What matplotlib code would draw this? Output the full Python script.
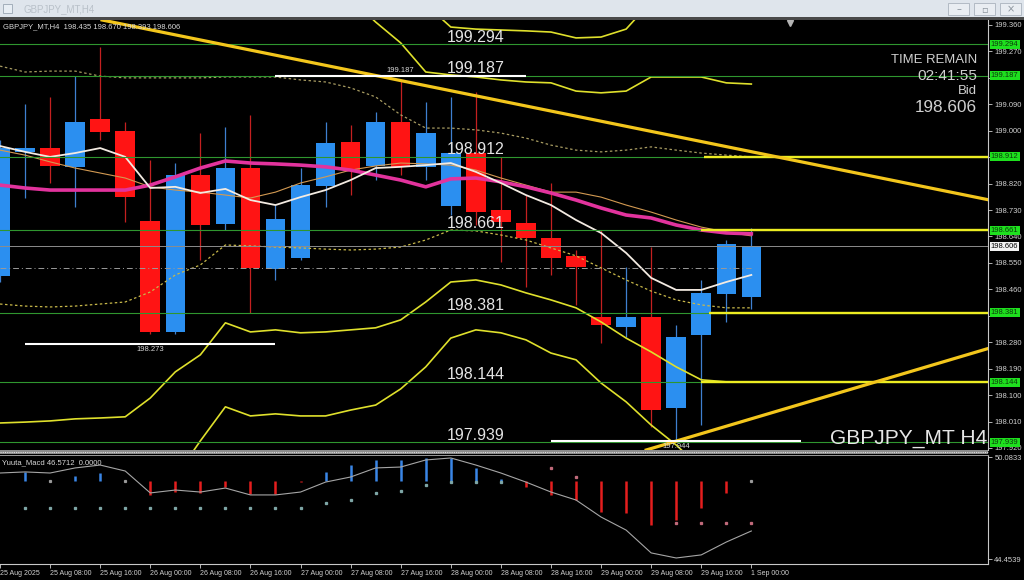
import numpy as np
import matplotlib
matplotlib.use('Agg')
import matplotlib.pyplot as plt
from matplotlib import font_manager
from matplotlib.patches import Rectangle

# ---- candles (GBPJPY H4, 25 Aug 00:00 .. 1 Sep 00:00) ----
opens = np.array([198.506, 198.928, 198.941, 198.877, 199.040, 198.999, 198.693, 198.315,
                  198.849, 198.683, 198.873, 198.529, 198.567, 198.812, 198.962, 198.880,
                  199.030, 198.877, 198.744, 198.924, 198.730, 198.686, 198.635, 198.574,
                  198.366, 198.332, 198.366, 198.056, 198.305, 198.444, 198.435])
highs = np.array([198.969, 199.091, 199.115, 199.186, 199.285, 199.030, 198.900, 198.890,
                  198.992, 199.013, 199.054, 198.747, 198.873, 199.030, 199.020, 199.064,
                  199.173, 199.098, 199.115, 199.132, 198.911, 198.781, 198.822, 198.594,
                  198.662, 198.536, 198.604, 198.339, 198.492, 198.628, 198.670])
lows = np.array([198.485, 198.771, 198.822, 198.740, 198.969, 198.689, 198.308, 198.308,
                 198.560, 198.662, 198.380, 198.492, 198.560, 198.740, 198.781, 198.832,
                 198.849, 198.832, 198.713, 198.679, 198.553, 198.468, 198.509, 198.407,
                 198.277, 198.298, 197.991, 197.944, 197.998, 198.349, 198.393])
closes = np.array([198.941, 198.941, 198.880, 199.030, 198.996, 198.774, 198.315, 198.849,
                   198.679, 198.873, 198.533, 198.700, 198.815, 198.958, 198.866, 199.030,
                   198.877, 198.992, 198.924, 198.723, 198.689, 198.635, 198.567, 198.536,
                   198.339, 198.366, 198.049, 198.298, 198.448, 198.614, 198.606])

# ---- moving averages / envelopes ----
ma_magenta = [198.815, 198.805, 198.798, 198.798, 198.798, 198.798, 198.815, 198.843,
              198.873, 198.897, 198.890, 198.887, 198.883, 198.877, 198.866, 198.849,
              198.832, 198.809, 198.836, 198.839, 198.826, 198.809, 198.788, 198.764,
              198.737, 198.713, 198.703, 198.679, 198.662, 198.652, 198.649]
ma_white = [198.948, 198.928, 198.911, 198.924, 198.941, 198.911, 198.805, 198.809,
            198.788, 198.802, 198.764, 198.747, 198.774, 198.798, 198.832, 198.873,
            198.877, 198.883, 198.890, 198.860, 198.822, 198.781, 198.747, 198.696,
            198.652, 198.584, 198.499, 198.458, 198.458, 198.485, 198.509]
ma_orange = [198.934, 198.917, 198.894, 198.873, 198.856, 198.839, 198.809, 198.798,
             198.791, 198.781, 198.771, 198.791, 198.822, 198.843, 198.866, 198.880,
             198.890, 198.887, 198.883, 198.866, 198.839, 198.815, 198.791, 198.791,
             198.774, 198.747, 198.723, 198.696, 198.672, 198.655, 198.642]
env_upper = [199.220, 199.200, 199.203, 199.203, 199.186, 199.180, 199.180, 199.180,
             199.180, 199.183, 199.183, 199.183, 199.173, 199.166, 199.146, 199.115,
             199.054, 199.009, 199.009, 199.003, 198.992, 198.975, 198.951, 198.934,
             198.928, 198.934, 198.945, 198.934, 198.924, 198.917, 198.911]
env_lower = [198.410, 198.403, 198.400, 198.403, 198.410, 198.417, 198.451, 198.509,
             198.543, 198.611, 198.608, 198.604, 198.601, 198.597, 198.594, 198.597,
             198.604, 198.628, 198.662, 198.659, 198.645, 198.628, 198.601, 198.574,
             198.533, 198.492, 198.454, 198.424, 198.407, 198.397, 198.397]
nan = np.nan
band1_upper = [nan] * 14 + [199.450, 199.370, 199.299, 199.200, 199.190, 199.183, 199.173,
                            199.166, 199.163, 199.135, 199.129, 199.135, 199.183, 199.183,
                            199.183, 199.163, 199.159]
band1_lower = [198.005, 198.008, 198.012, 198.019, 198.022, 198.026, 198.090, 198.179,
               198.237, 198.346, 198.315, 198.322, 198.312, 198.315, 198.322, 198.329,
               198.356, 198.417, 198.485, 198.492, 198.475, 198.448, 198.424, 198.397,
               198.349, 198.294, 198.247, 198.196, 198.152, 198.145, 198.145]
band2_upper = [nan] * 17 + [199.430, 199.353, 199.346, 199.343, 199.340, 199.336, 199.316,
                            199.319, 199.346, 199.440] + [nan] * 4
band2_lower = [nan] * 7 + [197.821, 197.944, 198.060, 198.029, 198.036, 198.029, 198.029,
                           198.049, 198.066, 198.121, 198.196, 198.294, 198.322, 198.312,
                           198.288, 198.243, 198.220, 198.141, 198.077, 197.998, 197.930,
                           197.850, nan, nan]

# ---- objects ----
green_levels = [199.294, 199.187, 198.912, 198.661, 198.381, 198.144, 197.939]
yellow_levels = [198.912, 198.661, 198.381, 198.144]
yellow_starts = [28.1, 28.0, 28.3, 28.0]
seg_levels = [199.187, 198.273, 197.944]
seg_starts = [11, 1, 22]
seg_ends = [21, 11, 32]
trend_down = [(5, 199.361), (39, 198.773)]
trend_up = [(26, 197.918), (39, 198.247)]
bid = 198.606
prev_line = 198.533

# ---- Yuuta_Macd sub window ----
macd_line = [49.20, 49.26, 49.20, 49.48, 49.64, 49.31, 48.10, 48.26, 48.15, 48.37, 47.99,
             47.99, 48.15, 48.70, 48.98, 49.48, 49.53, 49.92, 50.03, 49.64, 49.20, 48.70,
             48.15, 47.71, 46.77, 46.05, 44.79, 44.51, 44.68, 45.39, 46.00]
hist = [nan, 0.50, 0, 0.28, 0.44, 0, -0.77, -0.61, -0.66, -0.33, -0.72, -0.72, -0.06, 0.50,
        0.88, 1.16, 1.16, 1.27, 1.27, 0.72, 0.11, -0.33, -0.77, -1.05, -1.71, -1.77, -2.43,
        -2.15, -1.49, -0.66, 0]
hist_base = 48.76
dots_teal = [nan] + [47.27] * 12 + [47.54, 47.71, 48.10, 48.21, 48.54, 48.70, 48.70, 48.70] + [nan] * 10
dots_red = [nan] * 22 + [49.48, 48.98, nan, nan, nan, 46.44, 46.44, 46.44, 46.44]

tick_idx = [0, 2, 4, 6, 8, 10, 12, 14, 16, 18, 20, 22, 24, 26, 28, 30]
tick_labels = ['25 Aug 2025', '25 Aug 08:00', '25 Aug 16:00', '26 Aug 00:00', '26 Aug 08:00',
               '26 Aug 16:00', '27 Aug 00:00', '27 Aug 08:00', '27 Aug 16:00', '28 Aug 00:00',
               '28 Aug 08:00', '28 Aug 16:00', '29 Aug 00:00', '29 Aug 08:00', '29 Aug 16:00',
               '1 Sep 00:00']

plt.rcParams['font.family'] = ['Liberation Sans', 'DejaVu Sans']
have_narrow = any(f.name == 'Liberation Sans Narrow' for f in font_manager.fontManager.ttflist)
NF = ['Liberation Sans Narrow', 'DejaVu Sans'] if have_narrow else ['Liberation Sans', 'DejaVu Sans']
NS = 1.0 if have_narrow else 0.82

W, H = 1024, 580
TXT = '#d8d8d8'
fig = plt.figure(figsize=(W / 100, H / 100), dpi=100, facecolor='black')

# window title bar
fig.patches.append(Rectangle((0, 1 - 17 / H), 1, 17 / H, transform=fig.transFigure,
                             fc='#dfe5ec', ec='none'))
fig.patches.append(Rectangle((0, 1 - 20 / H), 1, 3 / H, transform=fig.transFigure,
                             fc='#4a4a4a', ec='none'))
fig.patches.append(Rectangle((3 / W, 1 - 13 / H), 9 / W, 9 / H, transform=fig.transFigure,
                             fc='#e8eef4', ec='#9aa6b2', lw=0.6))
fig.text(24 / W, 1 - 9 / H, 'GBPJPY_MT,H4', fontsize=7, color='#b9c1c9', va='center')
for bx, sym in [(948, '\u2013'), (974, '\u25ab'), (1000, '\u00d7')]:
    fig.patches.append(Rectangle((bx / W, 1 - 15 / H), 21 / W, 12 / H, transform=fig.transFigure,
                                 fc='#e9edf2', ec='#aab3bd', lw=0.6))
    fig.text((bx + 10.5) / W, 1 - 9 / H, sym, fontsize=7, color='#8a939c', ha='center',
             va='center', family=['DejaVu Sans'])

# main chart
ax = fig.add_axes([0, 1 - 450 / H, 988 / W, 430 / H], facecolor='black')
ax.set_xlim(0, 39.45)
ax.set_ylim(197.913, 199.377)
x = np.arange(len(opens))
up = closes >= opens
lo = np.minimum(opens, closes)
hb = np.abs(closes - opens)
ax.vlines(x[up], lows[up], highs[up], color='#3f80d0', lw=0.9, zorder=3)
ax.vlines(x[~up], lows[~up], highs[~up], color='#c42020', lw=0.9, zorder=3)
ax.bar(x[up], hb[up], bottom=lo[up], width=0.78, color='#2b8ff0', zorder=4)
ax.bar(x[~up], hb[~up], bottom=lo[~up], width=0.78, color='#ff1414', zorder=4)

ax.plot(x, band1_upper, color='#dfe02c', lw=1.2, zorder=5)
ax.plot(x, band1_lower, color='#dfe02c', lw=1.2, zorder=5)
ax.plot(x, band2_upper, color='#dfe02c', lw=1.2, zorder=5)
ax.plot(x, band2_lower, color='#dfe02c', lw=1.2, zorder=5)
ax.plot(x, env_upper, color='#a89c62', lw=0.9, ls=(0, (2, 2)), zorder=5)
ax.plot(x, env_lower, color='#c9b94a', lw=0.9, ls=(0, (2, 2)), zorder=5)
ax.plot(x, ma_orange, color='#d39a52', lw=0.8, zorder=5)
ax.plot(x, ma_magenta, color='#e2339d', lw=2.6, zorder=5)
ax.plot(x, ma_white, color='#f3ebe2', lw=1.3, zorder=6)

for lv in green_levels:
    ax.axhline(lv, color='#2f962f', lw=0.8, zorder=6)
ax.axhline(bid, color='#8c8c8c', lw=0.7, zorder=6)
ax.hlines(prev_line, 0, 30, color='#9a9a9a', lw=0.7, linestyles=(0, (6, 3, 1, 3)), zorder=6)
ax.hlines(yellow_levels, yellow_starts, 39.45, color='#ecec22', lw=1.7, zorder=7)
ax.axline(trend_down[0], trend_down[1], color='#f3c61c', lw=2.3, zorder=7)
ax.axline(trend_up[0], trend_up[1], color='#f3c61c', lw=2.3, zorder=7)
ax.hlines(seg_levels, seg_starts, seg_ends, color='white', lw=1.5, zorder=8)
ax.annotate('199.187', (16, seg_levels[0]), xytext=(0, 1.5), textcoords='offset points',
            ha='center', va='bottom', fontsize=5.5, color=TXT, zorder=9)
ax.annotate('198.273', (6, seg_levels[1]), xytext=(0, -1.5), textcoords='offset points',
            ha='center', va='top', fontsize=5.5, color=TXT, zorder=9)
ax.annotate('197.944', (27, seg_levels[2]), xytext=(0, -1.5), textcoords='offset points',
            ha='center', va='top', fontsize=5.5, color=TXT, zorder=9)

for lv in green_levels:
    ax.annotate(f'{lv:.3f}', (17.85, lv), xytext=(0, 2), textcoords='offset points',
                ha='left', va='baseline', fontsize=11.5, color='#e4e4e4', zorder=9)

ax.text(0.003, 1 - 7 / 430, 'GBPJPY_MT,H4  198.435 198.670 198.393 198.606',
        transform=ax.transAxes, fontsize=5.5, color=TXT, va='center', zorder=9)
ax.text(0.989, 1 - 40 / 430, 'TIME REMAIN', transform=ax.transAxes, ha='right', va='center',
        fontsize=11.5 * NS, color='#d0d0d0', family=NF, zorder=9)
ax.text(0.989, 1 - 56.5 / 430, '02:41:55', transform=ax.transAxes, ha='right', va='center',
        fontsize=13.5 * NS, color='#d0d0d0', family=NF, zorder=9)
ax.text(0.989, 1 - 71 / 430, 'Bid', transform=ax.transAxes, ha='right', va='center',
        fontsize=11.5 * NS, color='#d0d0d0', family=NF, zorder=9)
ax.text(0.989, 1 - 88 / 430, '198.606', transform=ax.transAxes, ha='right', va='center',
        fontsize=15 * NS, color='#d0d0d0', family=NF, zorder=9)
ax.text(0.999, 6 / 430, 'GBPJPY_MT H4', transform=ax.transAxes, ha='right', va='baseline',
        fontsize=18.5 * NS, color='#e6e6e6', family=NF, zorder=9)
ax.plot([0.7996], [0.993], marker='v', ms=4, color='#b4b4b4', transform=ax.transAxes,
        clip_on=False, zorder=9)

for side in ['top', 'left', 'bottom']:
    ax.spines[side].set_visible(False)
ax.spines['right'].set_color('#c8c8c8')
ax.spines['right'].set_linewidth(0.8)
ax.set_xticks([])
ax.yaxis.tick_right()
yt = np.round(199.36 - 0.09 * np.arange(17), 3)
ax.set_yticks(yt)
# price labels that sit under the level boxes are hidden, as in the terminal
ax.set_yticklabels(['' if min(abs(v - g) for g in green_levels) < 0.015 else f'{v:.3f}'
                    for v in yt])
ax.tick_params(axis='y', labelsize=5.5, colors='#d0d0d0', length=3, width=0.6, pad=1.5)

for lv in green_levels:
    ax.annotate(f'{lv:.3f}', (1, lv), xycoords=('axes fraction', 'data'), xytext=(2, 0),
                textcoords='offset points', ha='left', va='center', fontsize=5.5,
                color='#0c3a0c', annotation_clip=False, zorder=10,
                bbox=dict(boxstyle='square,pad=0.15', fc='#1ee01e', ec='none'))
ax.annotate(f'{bid:.3f}', (1, bid), xycoords=('axes fraction', 'data'), xytext=(2, 0),
            textcoords='offset points', ha='left', va='center', fontsize=5.5, color='black',
            annotation_clip=False, zorder=10,
            bbox=dict(boxstyle='square,pad=0.15', fc='#f2f2f2', ec='none'))

# separator between windows
fig.patches.append(Rectangle((0, 1 - 454 / H), 988 / W, 4 / H, transform=fig.transFigure,
                             fc='#8c8c8c', ec='none'))
fig.add_artist(plt.Line2D([0, 988 / W], [1 - 452 / H] * 2, transform=fig.transFigure,
                          color='#dcdcdc', lw=0.8, ls=(0, (1, 1))))

# macd window
axm = fig.add_axes([0, 1 - 564 / H, 988 / W, 109 / H], facecolor='black')
axm.set_xlim(0, 39.45)
axm.set_ylim(44.178, 50.194)
hv = np.array(hist)
pos = hv > 0
neg = hv < 0
axm.vlines(x[pos], hist_base, hist_base + hv[pos], color='#3a86e6', lw=1.8, zorder=3)
axm.vlines(x[neg], hist_base, hist_base + hv[neg], color='#e41e1e', lw=1.8, zorder=3)
axm.plot(x[hv == 0], [hist_base] * int((hv == 0).sum()), 's', ms=1.3, color='#9a9a9a', zorder=3)
axm.plot(x, macd_line, color='#a6a6a6', lw=0.8, zorder=4)
axm.plot(x, dots_teal, 's', ms=1.4, color='#7ea6a6', zorder=4)
axm.plot(x, dots_red, 's', ms=1.4, color='#c06a7a', zorder=4)
axm.text(0.002, 0.965, 'Yuuta_Macd 46.5712  0.0000', transform=axm.transAxes,
         fontsize=5.5, color=TXT, va='top')

axm.spines['left'].set_visible(False)
axm.spines['top'].set_color('#9a9a9a')
axm.spines['top'].set_linestyle((0, (1, 1)))
axm.spines['top'].set_linewidth(0.7)
for side in ['right', 'bottom']:
    axm.spines[side].set_color('#c8c8c8')
    axm.spines[side].set_linewidth(0.8)
axm.yaxis.tick_right()
axm.set_yticks([50.0833, 44.4539])
axm.set_yticklabels(['50.0833', '44.4539'])
axm.tick_params(axis='y', labelsize=5.5, colors='#d0d0d0', length=3, width=0.6, pad=1.5)
axm.set_xticks(tick_idx)
axm.set_xticklabels(tick_labels, ha='left')
axm.tick_params(axis='x', labelsize=5, colors='#d0d0d0', length=3, width=0.6, pad=1.5)

fig.savefig('out.png', dpi=100, facecolor='black')
